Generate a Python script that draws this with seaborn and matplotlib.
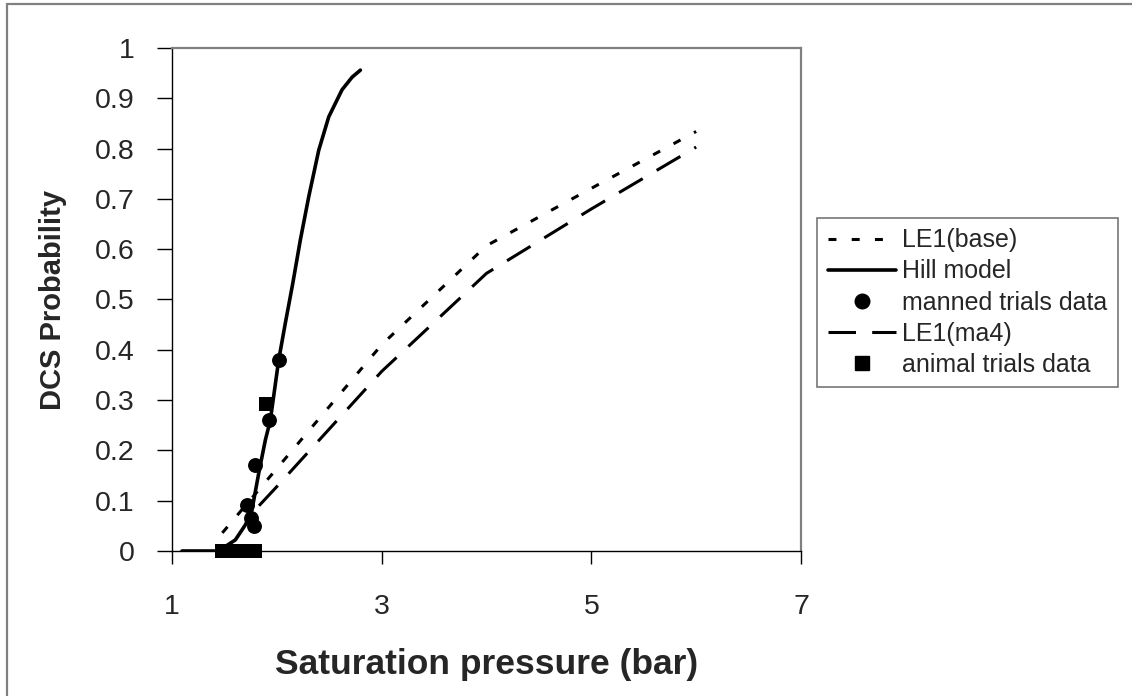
import matplotlib
matplotlib.use("Agg")
import matplotlib.pyplot as plt
import seaborn as sns
import pandas as pd
from matplotlib.lines import Line2D

# ---- data ----
hill_x = [1.095, 1.413, 1.509, 1.604, 1.700, 1.763, 1.833, 1.891, 1.938, 2.018,
          2.081, 2.152, 2.224, 2.304, 2.400, 2.495, 2.622, 2.718, 2.797]
hill_y = [0.0, 0.0, 0.009, 0.022, 0.052, 0.082, 0.161, 0.221, 0.260, 0.380,
          0.453, 0.532, 0.618, 0.704, 0.797, 0.863, 0.917, 0.942, 0.956]

base_x = [1.48, 2.0, 3.0, 4.0, 5.0, 6.0]
base_y = [0.036, 0.164, 0.410, 0.607, 0.721, 0.834]

ma4_x = [1.83, 2.0, 3.0, 4.0, 5.0, 6.0]
ma4_y = [0.090, 0.128, 0.357, 0.552, 0.680, 0.803]

manned_x = [2.018, 1.923, 1.795, 1.716, 1.750, 1.780]
manned_y = [0.380, 0.260, 0.171, 0.091, 0.065, 0.050]

animal_x = [1.897, 1.48, 1.56, 1.64, 1.72, 1.79]
animal_y = [0.292, 0.0, 0.0, 0.0, 0.0, 0.0]

x_ticks = [1, 3, 5, 7]
y_ticks = [0, 0.1, 0.2, 0.3, 0.4, 0.5, 0.6, 0.7, 0.8, 0.9, 1.0]
y_tick_labels = ["0", "0.1", "0.2", "0.3", "0.4", "0.5", "0.6", "0.7", "0.8", "0.9", "1"]

labels = ["LE1(base)", "Hill model", "manned trials data", "LE1(ma4)", "animal trials data"]

# ---- style ----
sns.set_style("white")
plt.rcParams["font.family"] = ["Liberation Sans", "DejaVu Sans"]

fig = plt.figure(figsize=(11.32, 6.96), dpi=100)
ax = fig.add_axes([172 / 1132, 1 - 551 / 696, (801 - 172) / 1132, (551 - 48) / 696])

df_base = pd.DataFrame({"x": base_x, "y": base_y})
df_hill = pd.DataFrame({"x": hill_x, "y": hill_y})
df_ma4 = pd.DataFrame({"x": ma4_x, "y": ma4_y})
df_man = pd.DataFrame({"x": manned_x, "y": manned_y})
df_ani = pd.DataFrame({"x": animal_x, "y": animal_y})

sns.lineplot(data=df_base, x="x", y="y", ax=ax, color="black", lw=2.2,
             linestyle=(0, (2.6, 5.0)), sort=False, label=labels[0])
sns.lineplot(data=df_hill, x="x", y="y", ax=ax, color="black", lw=2.6,
             sort=False, label=labels[1])
sns.lineplot(data=df_ma4, x="x", y="y", ax=ax, color="black", lw=2.2,
             linestyle=(0, (9.0, 5.3)), sort=False, label=labels[3])
sns.scatterplot(data=df_man, x="x", y="y", ax=ax, color="black", marker="o",
                s=115, edgecolor="black", linewidth=0, clip_on=False, zorder=5,
                label=labels[2])
sns.scatterplot(data=df_ani, x="x", y="y", ax=ax, color="black", marker="s",
                s=100, edgecolor="black", linewidth=0, clip_on=False, zorder=5,
                label=labels[4])

ax.set_xlim(1, 7)
ax.set_ylim(0, 1)
ax.set_xticks(x_ticks)
ax.set_xticklabels([str(t) for t in x_ticks])
ax.set_yticks(y_ticks)
ax.set_yticklabels(y_tick_labels)

ax.tick_params(axis="x", direction="out", length=9, width=1, color="black",
               pad=22, labelsize=20.5, bottom=True)
ax.tick_params(axis="y", direction="out", length=11, width=1, color="black",
               pad=16, labelsize=20.5, left=True)

for side in ["left", "bottom"]:
    ax.spines[side].set_color("black")
    ax.spines[side].set_linewidth(1.0)
for side in ["top", "right"]:
    ax.spines[side].set_color("#808080")
    ax.spines[side].set_linewidth(1.6)

ax.set_xlabel("Saturation pressure (bar)", fontsize=25.5, fontweight="bold", labelpad=20)
ax.set_ylabel("DCS Probability", fontsize=21, fontweight="bold", labelpad=20)

# legend in the reference order
handles = [
    Line2D([], [], color="black", lw=2.2, linestyle=(0, (2.6, 5.0))),
    Line2D([], [], color="black", lw=2.6),
    Line2D([], [], color="black", marker="o", linestyle="none", markersize=10.5),
    Line2D([], [], color="black", lw=2.2, linestyle=(0, (9.0, 5.3))),
    Line2D([], [], color="black", marker="s", linestyle="none", markersize=9.5),
]
ax.get_legend().remove()
leg = fig.legend(handles, labels, loc="upper left",
                 bbox_to_anchor=(817 / 1132, 1 - 218 / 696),
                 frameon=True, fancybox=False, shadow=False, fontsize=18,
                 handlelength=2.75, handletextpad=0.25, labelspacing=0.28,
                 borderpad=0.42, borderaxespad=0.0)
leg.get_frame().set_edgecolor("#555555")
leg.get_frame().set_linewidth(1.2)

# outer chart border (left and top visible in reference)
fig.add_artist(Line2D([7 / 1132, 7 / 1132], [0, 1 - 4 / 696], transform=fig.transFigure,
                      color="#808080", lw=1.6))
fig.add_artist(Line2D([7 / 1132, 1], [1 - 4 / 696, 1 - 4 / 696], transform=fig.transFigure,
                      color="#808080", lw=1.6))

fig.savefig("out.png", dpi=100)
